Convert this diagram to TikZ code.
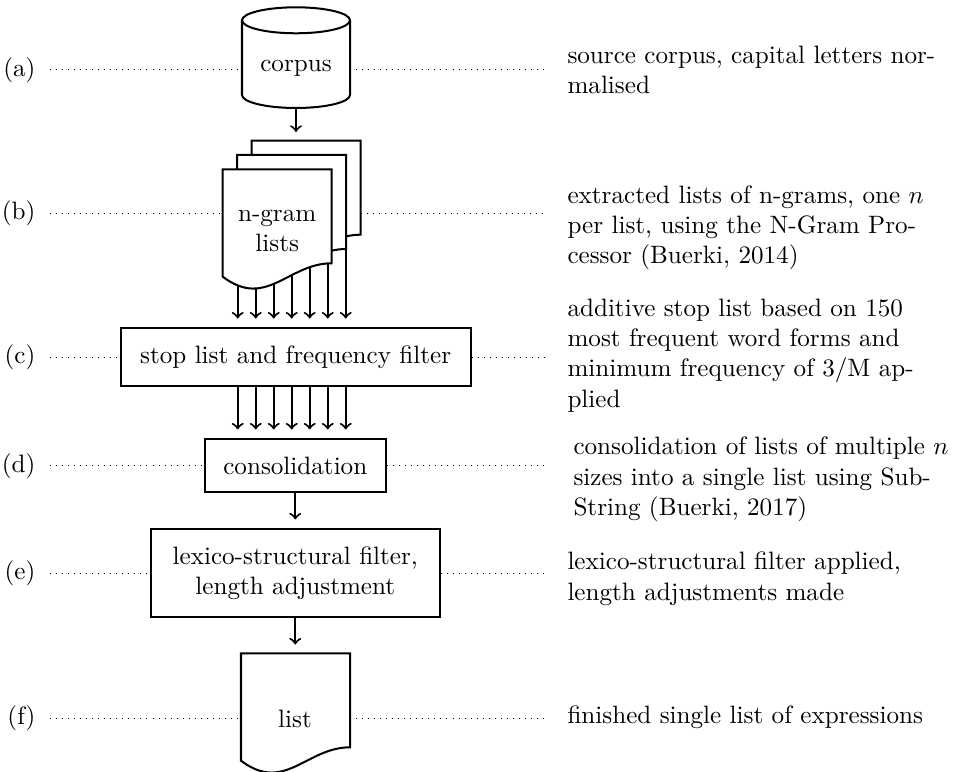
\documentclass[tikz,border=0pt]{standalone}
\newcommand\pxu{0.398pt}
\newcommand\docshape[2]{\draw[shp] (#1,#2) -- ({#1+109},#2) -- ({#1+109},{#2+94}) .. controls ({#1+65.4},{#2+94}) and ({#1+43.6},{#2+140.4}) .. (#1,{#2+107.4}) -- cycle;}
\begin{document}
\begin{tikzpicture}[x=0.398pt,y=-0.398pt,
  shp/.style={draw,thick,fill=white},
  procbox/.style={draw,thick,fill=white,inner sep=0pt,align=center},
  conn/.style={thick,->,shorten >=3.5pt},
  dots/.style={dotted},
  lab/.style={anchor=east,inner xsep=5.6pt,inner ysep=0pt},
  desc/.style={anchor=base west,inner sep=0pt,text width=6cm,align=left}]
\useasboundingbox (0,0) rectangle (962,772);

% (a) cylinder
\draw[shp] (242,20.3) -- (242,95) arc[start angle=180,end angle=0,x radius=54,y radius=13]
  -- (350,20.3) arc[start angle=0,end angle=-180,x radius=54,y radius=13] -- cycle;
\draw[thick] (242,20.3) arc[start angle=180,end angle=0,x radius=54,y radius=13];
\node[anchor=base] (corpus) at (296,71.7) {corpus};
\coordinate (cylbot) at (296,108);
\coordinate (docbtop) at (296,140.7);

% boxes
\node[procbox,minimum width={350*\pxu},minimum height={57.7*\pxu}] (boxc) at (295.7,357.2) {stop list and frequency filter};
\node[procbox,minimum width={180.7*\pxu},minimum height={53*\pxu}] (boxd) at (295.3,465.8) {consolidation};
\node[procbox,minimum width={289.3*\pxu},minimum height={88*\pxu}] (boxe) at (295.3,573.3) {lexico-structural filter,\\length adjustment};

% many arrows
\coordinate (wv) at (0,245);
\foreach \k in {0,...,6} {\coordinate (k\k) at ({237.7+18*\k},0);}
\foreach \k in {0,...,6} {\draw[conn] (k\k |- wv) -- (k\k |- boxc.north);}
\foreach \k in {0,...,6} {\draw[conn] (k\k |- boxc.south) -- (k\k |- boxd.north);}

% (b) documents
\docshape{251.7}{140.7}
\docshape{237.2}{155}
\docshape{222.7}{169.3}
\node[anchor=base] (ngram1) at (277.2,221.7) {n-gram};
\node[anchor=base] (ngram2) at (277.2,251.7) {lists};

% (f) document
\docshape{241}{653.3}
\node[anchor=base] (listtxt) at (295,727) {list};
\coordinate (docftop) at (295.3,653.3);

% single arrows
\draw[conn] (cylbot) -- (docbtop);
\draw[conn] (boxd.south) -- (boxe.north);
\draw[conn] (boxe.south) -- (docftop);

% labels
\node[lab] (la) at (50,70) {(a)};
\node[lab] (lb) at (50,213.3) {(b)};
\node[lab] (lc) at (50,357.2) {(c)};
\node[lab] (ld) at (50,465.8) {(d)};
\node[lab] (le) at (50,573.3) {(e)};
\node[lab] (lf) at (50,718.3) {(f)};

\coordinate (aW) at (242,70);   \coordinate (aE) at (350,70);    \coordinate (aR) at (545,70);
\coordinate (bW) at (222.7,213.3); \coordinate (bE) at (361,213.3); \coordinate (bR) at (545,213.3);
\coordinate (cR) at (545,357.2);
\coordinate (dR) at (545,465.8);
\coordinate (eR) at (545,573.3);
\coordinate (fW) at (241,718.3); \coordinate (fE) at (350,718.3); \coordinate (fR) at (545,718.3);

\draw[dots] (la) -- (aW);  \draw[dots] (aE) -- (aR);
\draw[dots] (lb) -- (bW);  \draw[dots] (bE) -- (bR);
\draw[dots] (lc) -- (boxc); \draw[dots] (boxc) -- (cR);
\draw[dots] (ld) -- (boxd); \draw[dots] (boxd) -- (dR);
\draw[dots] (le) -- (boxe); \draw[dots] (boxe) -- (eR);
\draw[dots] (lf) -- (fW);  \draw[dots] (fE) -- (fR);

% descriptions
\node[desc] (da) at (567,63.3) {source corpus, capital letters nor-\\malised};
\node[desc] (db) at (567,203.3) {extracted lists of n-grams, one $n$\\per list, using the N-Gram Pro-\\cessor (Buerki, 2014)};
\node[desc] (dc) at (567,316.7) {additive stop list based on 150\\most frequent word forms and\\minimum frequency of 3/M ap-\\plied};
\node[desc] (dd) at (573,455) {consolidation of lists of multiple $n$\\sizes into a single list using Sub-\\String (Buerki, 2017)};
\node[desc] (de) at (567,570) {lexico-structural filter applied,\\length adjustments made};
\node[desc] (df) at (567,723.5) {finished single list of expressions};
\end{tikzpicture}
\end{document}
